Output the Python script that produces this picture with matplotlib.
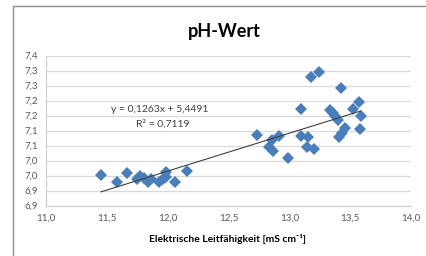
import matplotlib
matplotlib.use("Agg")
import matplotlib.pyplot as plt
from matplotlib.patches import Rectangle

plt.rcParams['font.family'] = ['Lato', 'DejaVu Sans']

# Data
conductivity = [11.452, 11.583, 11.666, 11.748, 11.772, 11.805, 11.838, 11.863,
                11.928, 11.961, 11.986, 11.986, 12.060, 12.159,
                12.736, 12.855, 12.917, 12.835, 12.868, 12.991, 13.093, 13.095,
                13.155, 13.142, 13.202, 13.178, 13.243, 13.334, 13.356, 13.378,
                13.400, 13.422, 13.525, 13.574, 13.586, 13.580, 13.457, 13.430, 13.410]
ph = [6.952, 6.928, 6.958, 6.938, 6.948, 6.942, 6.928, 6.938,
      6.928, 6.938, 6.962, 6.945, 6.928, 6.965,
      7.085, 7.068, 7.082, 7.044, 7.033, 7.007, 7.171, 7.082,
      7.079, 7.046, 7.037, 7.279, 7.296, 7.168, 7.159, 7.148,
      7.135, 7.241, 7.172, 7.196, 7.148, 7.105, 7.107, 7.091, 7.077]
slope = 0.1263
intercept = 5.4491
r2 = 0.7119

x_ticks = [11.0, 11.5, 12.0, 12.5, 13.0, 13.5, 14.0]
x_tick_labels = ["11,0", "11,5", "12,0", "12,5", "13,0", "13,5", "14,0"]
y_ticks = [6.85, 6.90, 6.95, 7.00, 7.05, 7.10, 7.15, 7.20, 7.25, 7.30, 7.35]
y_tick_labels = ["6,9", "6,9", "7,0", "7,0", "7,1", "7,1", "7,2", "7,2", "7,3", "7,3", "7,4"]

title = "pH-Wert"
x_label = "Elektrische Leitfähigkeit [mS cm⁻¹]"
eq_text = "y = 0,1263x + 5,4491"
r2_text = "R² = 0,7119"

fig = plt.figure(figsize=(4.26, 2.56), dpi=100)
fig.patch.set_facecolor('white')
# chart frame
fig.patches.append(Rectangle((13/426, -0.1), 1.0, 1 - 6/256 + 0.1, transform=fig.transFigure,
                             fill=False, edgecolor='#8c8c8c', linewidth=1.0))

ax = fig.add_axes([46/426, 1 - 205.5/256, (411 - 46)/426, (205.5 - 55.5)/256])
ax.set_xlim(11.0, 14.0)
ax.set_ylim(6.85, 7.35)
ax.set_xticks(x_ticks)
ax.set_xticklabels(x_tick_labels)
ax.set_yticks(y_ticks)
ax.set_yticklabels(y_tick_labels)
ax.tick_params(length=0, labelsize=7, colors='#595959', pad=6)
ax.grid(axis='y', color='#d9d9d9', linewidth=0.9)
ax.set_axisbelow(True)
for s in ['top', 'right']:
    ax.spines[s].set_visible(False)
for s in ['left', 'bottom']:
    ax.spines[s].set_color('#d0d0d0')
    ax.spines[s].set_linewidth(0.9)

ax.plot(conductivity, ph, linestyle='none', marker='D', markersize=6,
        color='#4a7ebb', markeredgewidth=0, zorder=3)

xmin, xmax = min(conductivity), max(conductivity)
ax.plot([xmin, xmax], [slope * xmin + intercept, slope * xmax + intercept],
        color='#404040', linewidth=0.8, zorder=4)

fig.text(160/426, 1 - 110/256, eq_text, ha='center', va='center', fontsize=7.5, color='#404040')
fig.text(163/426, 1 - 124/256, r2_text, ha='center', va='center', fontsize=7.5, color='#404040')

fig.text(224/426, 1 - 31/256, title, ha='center', va='center', fontsize=13,
         fontweight='bold', color='black')
fig.text(228/426, 1 - 239/256, x_label, ha='center', va='center', fontsize=7.4,
         fontweight='bold', color='black')

fig.savefig('out.png', dpi=100, facecolor='white')
